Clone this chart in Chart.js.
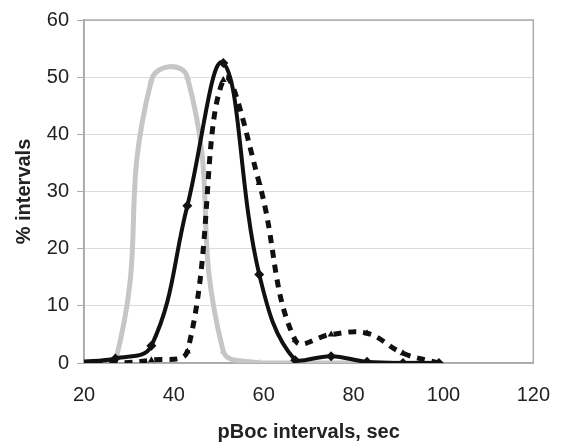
<!DOCTYPE html>
<html>
<head>
<meta charset="utf-8">
<script src="https://cdn.jsdelivr.net/npm/chart.js@4.4.1/dist/chart.umd.min.js"></script>
<style>
  html, body { margin: 0; padding: 0; background: #fff; }
  #wrap { width: 570px; height: 445px; }
</style>
</head>
<body>
<div id="wrap"><canvas id="intervalChart" width="570" height="445"></canvas></div>
<script>
// interval bins (sec) and % of intervals per bin
var binCenters = [19, 27, 35, 43, 51, 59, 67, 75, 83, 91, 99];
var grayPct    = [0, 0.3, 49.5, 50, 2, 0, 0, 0, 0, 0, 0];
var solidPct   = [0.2, 0.8, 3, 27.5, 52.5, 15.5, 0.5, 1.2, 0.2, 0, 0];
var dashedPct  = [0, 0, 0.5, 2, 49.5, 31.5, 4, 5, 5.2, 1.7, 0];

var xTicks = [20, 40, 60, 80, 100, 120];
var yTicks = [0, 10, 20, 30, 40, 50, 60];

function toPoints(values) {
    return binCenters.map(function (x, i) { return { x: x, y: values[i] }; });
}

// draw the grey frame around the plot area
var frame = {
    id: 'frame',
    beforeDatasetsDraw: function (chart) {
        var a = chart.chartArea, ctx = chart.ctx;
        ctx.save();
        ctx.strokeStyle = '#acacac';
        ctx.lineWidth = 1.5;
        ctx.strokeRect(a.left, a.top, a.right - a.left, a.bottom - a.top);
        ctx.restore();
    }
};

Chart.defaults.font.family = '"Liberation Sans", Arial, sans-serif';
Chart.defaults.color = '#222';

new Chart(document.getElementById('intervalChart').getContext('2d'), {
    type: 'line',
    data: {
        datasets: [
            {
                label: 'dashed',
                data: toPoints(dashedPct),
                borderColor: '#111',
                backgroundColor: '#111',
                borderWidth: 5,
                borderDash: [8, 7],
                tension: 0.4,
                pointStyle: 'triangle',
                pointRadius: 4,
                pointBorderWidth: 0
            },
            {
                label: 'solid',
                data: toPoints(solidPct),
                borderColor: '#111',
                backgroundColor: '#111',
                borderWidth: 4,
                tension: 0.4,
                pointStyle: 'rectRot',
                pointRadius: 5,
                pointBorderWidth: 0
            },
            {
                label: 'gray',
                data: toPoints(grayPct),
                borderColor: '#c6c6c6',
                backgroundColor: '#c6c6c6',
                borderWidth: 5,
                tension: 0.5,
                pointStyle: 'triangle',
                pointRadius: 4,
                pointBorderWidth: 0
            }
        ]
    },
    options: {
        responsive: false,
        animation: false,
        layout: { padding: { top: 15, right: 27, left: 0, bottom: 0 } },
        plugins: { legend: { display: false }, tooltip: { enabled: false } },
        scales: {
            x: {
                type: 'linear',
                min: 20,
                max: 120,
                afterBuildTicks: function (scale) {
                    scale.ticks = xTicks.map(function (v) { return { value: v }; });
                },
                afterFit: function (scale) { scale.height = 82; },
                grid: { display: false, drawTicks: false },
                border: { color: '#9a9a9a', width: 1.5 },
                ticks: { padding: 20, font: { size: 20 } },
                title: {
                    display: true,
                    text: 'pBoc intervals, sec',
                    font: { size: 20, weight: 'bold' },
                    padding: { top: 0, bottom: 1 }
                }
            },
            y: {
                min: 0,
                max: 60,
                afterBuildTicks: function (scale) {
                    scale.ticks = yTicks.map(function (v) { return { value: v }; });
                },
                afterFit: function (scale) { scale.width = 84; },
                grid: { color: '#dcdcdc', lineWidth: 1, tickLength: 7, tickColor: '#aaa' },
                border: { color: '#9a9a9a', width: 1.5 },
                ticks: { padding: 8, font: { size: 20 } },
                title: {
                    display: true,
                    text: '% intervals',
                    font: { size: 20, weight: 'bold' },
                    padding: { top: 12, bottom: 0 }
                }
            }
        }
    },
    plugins: [frame]
});
</script>
</body>
</html>
